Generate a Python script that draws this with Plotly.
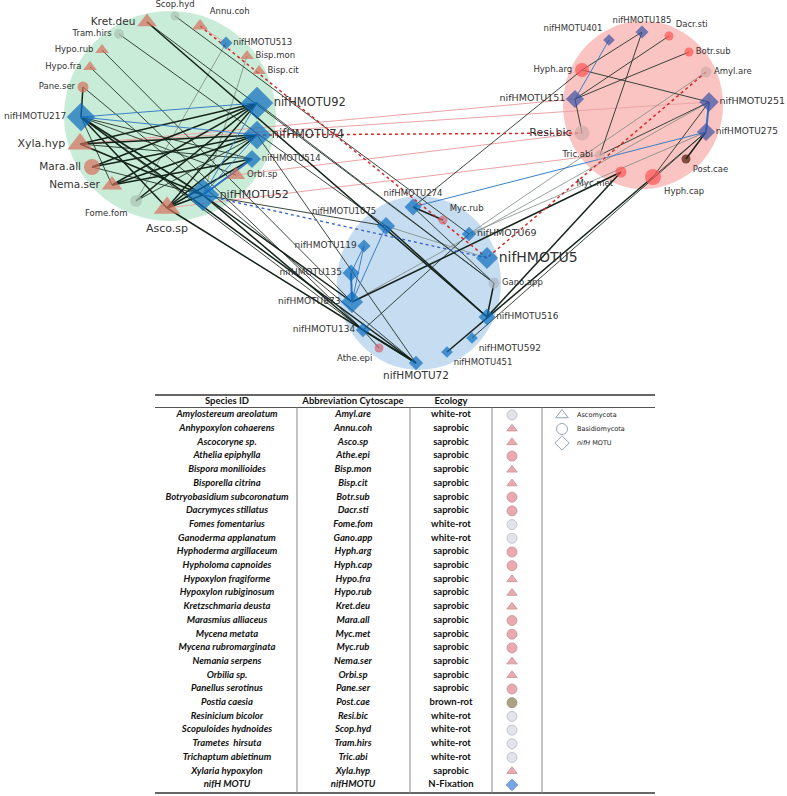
import plotly.graph_objects as go

# ---------------- network data ----------------
node_ids = [
    "Kret.deu", "Scop.hyd", "Annu.coh", "Tram.hirs", "nifHMOTU513", "Hypo.rub", "Bisp.mon",
    "Hypo.fra", "Bisp.cit", "Pane.ser", "nifHMOTU92", "nifHMOTU217", "nifHMOTU74", "Xyla.hyp",
    "nifHMOTU514", "Mara.all", "Orbi.sp", "Nema.ser", "Fome.fom", "nifHMOTU52", "Asco.sp",
    "nifHMOTU401", "nifHMOTU185", "Dacr.sti", "Botr.sub", "Hyph.arg", "Amyl.are", "nifHMOTU151",
    "nifHMOTU251", "Resi.bic", "nifHMOTU275", "Tric.abi", "Post.cae", "Myc.met", "Hyph.cap",
    "nifHMOTU274", "Myc.rub", "nifHMOTU1075", "nifHMOTU69", "nifHMOTU119", "nifHMOTU5",
    "nifHMOTU135", "Gano.app", "nifHMOTU873", "nifHMOTU516", "nifHMOTU134", "nifHMOTU592",
    "Athe.epi", "nifHMOTU451", "nifHMOTU72",
]
node_kind = [
    "asco", "basidio", "asco", "basidio", "nifH", "asco", "asco",
    "asco", "asco", "basidio", "nifH", "nifH", "nifH", "asco",
    "nifH", "basidio", "asco", "asco", "basidio", "nifH", "asco",
    "nifH", "nifH", "basidio", "basidio", "basidio", "basidio", "nifH",
    "nifH", "basidio", "nifH", "basidio", "basidio", "basidio", "basidio",
    "nifH", "basidio", "nifH", "nifH", "nifH", "nifH",
    "nifH", "basidio", "nifH", "nifH", "nifH", "nifH",
    "basidio", "nifH", "nifH",
]
node_ecology = [
    "saprobic", "white-rot", "saprobic", "white-rot", "N-Fixation", "saprobic", "saprobic",
    "saprobic", "saprobic", "saprobic", "N-Fixation", "N-Fixation", "N-Fixation", "saprobic",
    "N-Fixation", "saprobic", "saprobic", "saprobic", "white-rot", "N-Fixation", "saprobic",
    "N-Fixation", "N-Fixation", "saprobic", "saprobic", "saprobic", "white-rot", "N-Fixation",
    "N-Fixation", "white-rot", "N-Fixation", "white-rot", "brown-rot", "saprobic", "saprobic",
    "N-Fixation", "saprobic", "N-Fixation", "N-Fixation", "N-Fixation", "N-Fixation",
    "N-Fixation", "white-rot", "N-Fixation", "N-Fixation", "N-Fixation", "N-Fixation",
    "saprobic", "N-Fixation", "N-Fixation",
]
node_module = ["green"] * 21 + ["pink"] * 14 + ["blue"] * 15
node_degree = [
    17, 9, 14, 10, 10, 12, 12,
    12, 12, 11, 25, 22, 22, 22,
    14, 16, 16, 18, 12, 25, 23,
    9, 10, 9, 9, 14, 11, 14,
    15, 15, 14, 10, 9, 11, 16,
    13, 9, 14, 11, 10, 17,
    13, 11, 17, 13, 11, 9,
    9, 9, 11,
]

edges_dark_thick = [
    ("nifHMOTU92", "Xyla.hyp"), ("nifHMOTU92", "Mara.all"), ("nifHMOTU92", "Nema.ser"),
    ("nifHMOTU92", "Asco.sp"), ("nifHMOTU92", "Fome.fom"),
    ("nifHMOTU74", "Xyla.hyp"), ("nifHMOTU74", "Mara.all"), ("nifHMOTU74", "Nema.ser"),
    ("nifHMOTU74", "Asco.sp"), ("nifHMOTU514", "Asco.sp"), ("nifHMOTU514", "Nema.ser"),
    ("nifHMOTU52", "Asco.sp"), ("nifHMOTU52", "Xyla.hyp"), ("nifHMOTU217", "Asco.sp"),
    ("nifHMOTU217", "nifHMOTU52"), ("nifHMOTU217", "Pane.ser"),
    ("Kret.deu", "nifHMOTU516"), ("nifHMOTU217", "nifHMOTU72"), ("Asco.sp", "nifHMOTU72"),
    ("nifHMOTU52", "nifHMOTU134"), ("nifHMOTU52", "nifHMOTU873"),
    ("Myc.met", "nifHMOTU873"), ("Myc.met", "nifHMOTU516"), ("Hyph.cap", "nifHMOTU451"),
    ("nifHMOTU275", "Post.cae"), ("nifHMOTU274", "Myc.rub"), ("nifHMOTU1075", "nifHMOTU516"),
    ("Gano.app", "nifHMOTU516"), ("nifHMOTU134", "nifHMOTU72"),
]
edges_dark_thin = [
    ("nifHMOTU217", "Orbi.sp"), ("nifHMOTU217", "nifHMOTU514"), ("nifHMOTU217", "Nema.ser"),
    ("nifHMOTU52", "Mara.all"), ("nifHMOTU74", "Fome.fom"), ("nifHMOTU514", "Xyla.hyp"),
    ("Kret.deu", "Gano.app"), ("Tram.hirs", "nifHMOTU1075"), ("Hypo.rub", "nifHMOTU873"),
    ("Hypo.fra", "nifHMOTU134"), ("Pane.ser", "nifHMOTU72"), ("nifHMOTU217", "nifHMOTU134"),
    ("nifHMOTU52", "nifHMOTU1075"), ("nifHMOTU92", "Gano.app"), ("nifHMOTU74", "nifHMOTU72"),
    ("Scop.hyd", "nifHMOTU69"), ("Hyph.arg", "nifHMOTU274"), ("nifHMOTU592", "nifHMOTU275"),
    ("Hyph.arg", "nifHMOTU251"), ("nifHMOTU151", "Resi.bic"), ("nifHMOTU251", "Hyph.cap"),
    ("nifHMOTU251", "Tric.abi"), ("nifHMOTU185", "Tric.abi"), ("Dacr.sti", "nifHMOTU151"),
    ("Botr.sub", "nifHMOTU151"), ("nifHMOTU185", "Hyph.arg"), ("nifHMOTU134", "Athe.epi"),
    ("nifHMOTU274", "Gano.app"), ("nifHMOTU134", "nifHMOTU69"), ("nifHMOTU275", "Hyph.cap"),
]
edges_grey = [
    ("nifHMOTU1075", "nifHMOTU5"), ("nifHMOTU873", "nifHMOTU251"), ("Amyl.are", "nifHMOTU69"),
    ("Fome.fom", "nifHMOTU513"), ("Bisp.mon", "nifHMOTU52"), ("nifHMOTU275", "nifHMOTU69"),
]
edges_blue = [
    ("nifHMOTU217", "nifHMOTU92"), ("nifHMOTU217", "nifHMOTU74"), ("nifHMOTU92", "nifHMOTU52"),
    ("nifHMOTU74", "nifHMOTU52"), ("nifHMOTU401", "nifHMOTU151"), ("nifHMOTU275", "nifHMOTU274"),
    ("nifHMOTU1075", "nifHMOTU873"), ("nifHMOTU119", "nifHMOTU135"), ("nifHMOTU119", "nifHMOTU873"),
]
edges_blue_thick = [
    ("nifHMOTU514", "nifHMOTU52"), ("nifHMOTU251", "nifHMOTU275"), ("nifHMOTU135", "nifHMOTU873"),
]
edges_pink = [
    ("Xyla.hyp", "nifHMOTU251"), ("Xyla.hyp", "nifHMOTU151"), ("Orbi.sp", "Resi.bic"),
    ("Asco.sp", "Tric.abi"), ("Annu.coh", "nifHMOTU513"),
]
edges_red_dotted = [
    ("Annu.coh", "nifHMOTU5"), ("nifHMOTU74", "Resi.bic"), ("Amyl.are", "nifHMOTU5"),
]
edges_blue_dotted = [("nifHMOTU52", "nifHMOTU5")]

# ---------------- table data ----------------
species_names = [
    "Amylostereum areolatum", "Anhypoxylon cohaerens", "Ascocoryne sp.", "Athelia epiphylla",
    "Bispora monilioides", "Bisporella citrina", "Botryobasidium subcoronatum",
    "Dacrymyces stillatus", "Fomes fomentarius", "Ganoderma applanatum",
    "Hyphoderma argillaceum", "Hypholoma capnoides", "Hypoxylon fragiforme",
    "Hypoxylon rubiginosum", "Kretzschmaria deusta", "Marasmius alliaceus", "Mycena metata",
    "Mycena rubromarginata", "Nemania serpens", "Orbilia sp.", "Panellus serotinus",
    "Postia caesia", "Resinicium bicolor", "Scopuloides hydnoides", "Trametes  hirsuta",
    "Trichaptum abietinum", "Xylaria hypoxylon", "nifH MOTU",
]
abbreviations = [
    "Amyl.are", "Annu.coh", "Asco.sp", "Athe.epi", "Bisp.mon", "Bisp.cit", "Botr.sub",
    "Dacr.sti", "Fome.fom", "Gano.app", "Hyph.arg", "Hyph.cap", "Hypo.fra", "Hypo.rub",
    "Kret.deu", "Mara.all", "Myc.met", "Myc.rub", "Nema.ser", "Orbi.sp", "Pane.ser",
    "Post.cae", "Resi.bic", "Scop.hyd", "Tram.hirs", "Tric.abi", "Xyla.hyp", "nifHMOTU",
]
ecology = [
    "white-rot", "saprobic", "saprobic", "saprobic", "saprobic", "saprobic", "saprobic",
    "saprobic", "white-rot", "white-rot", "saprobic", "saprobic", "saprobic", "saprobic",
    "saprobic", "saprobic", "saprobic", "saprobic", "saprobic", "saprobic", "saprobic",
    "brown-rot", "white-rot", "white-rot", "white-rot", "white-rot", "saprobic", "N-Fixation",
]
phylum = [
    "basidio", "asco", "asco", "basidio", "asco", "asco", "basidio", "basidio", "basidio",
    "basidio", "basidio", "basidio", "asco", "asco", "asco", "basidio", "basidio", "basidio",
    "asco", "asco", "basidio", "basidio", "basidio", "basidio", "basidio", "basidio", "asco",
    "nifH",
]
header_labels = ["Species ID", "Abbreviation Cytoscape", "Ecology"]
legend_labels = ["Ascomycota", "Basidiomycota", "<i>nifH</i> MOTU"]
legend_kinds = ["asco", "basidio", "nifH"]

# ---------------- layout (positions & styles) ----------------
POS = {
    "Kret.deu": (147, 22, "middle left", 10.5), "Scop.hyd": (175, 16, "top center", 8.5),
    "Annu.coh": (200, 26, "top right", 8.5), "Tram.hirs": (119, 34, "middle left", 8.5),
    "nifHMOTU513": (226, 43, "middle right", 8.5), "Hypo.rub": (102, 50, "middle left", 8.5),
    "Bisp.mon": (247, 56, "middle right", 8.5), "Hypo.fra": (90, 67, "middle left", 8.5),
    "Bisp.cit": (259, 71, "middle right", 8.5), "Pane.ser": (83, 87, "middle left", 8.5),
    "nifHMOTU92": (257, 103, "middle right", 11.5), "nifHMOTU217": (81, 117, "middle left", 9),
    "nifHMOTU74": (257, 135, "middle right", 11.5), "Xyla.hyp": (80, 144, "middle left", 11),
    "nifHMOTU514": (252, 159, "middle right", 8.5), "Mara.all": (92, 167, "middle left", 10.5),
    "Orbi.sp": (236, 175, "middle right", 8.5), "Nema.ser": (112, 185, "middle left", 10.5),
    "Fome.fom": (136, 201, "bottom left", 8.5), "nifHMOTU52": (203, 195, "middle right", 11),
    "Asco.sp": (167, 208, "bottom center", 11),
    "nifHMOTU401": (609, 40, "top left", 8.5), "nifHMOTU185": (642, 32, "top center", 8.5),
    "Dacr.sti": (669, 36, "top right", 8.5), "Botr.sub": (689, 52, "middle right", 8.5),
    "Hyph.arg": (582, 70, "middle left", 8.5), "Amyl.are": (706, 72, "middle right", 8.5),
    "nifHMOTU151": (575, 99, "middle left", 9.5), "nifHMOTU251": (709, 102, "middle right", 9.5),
    "Resi.bic": (582, 133, "middle left", 11), "nifHMOTU275": (706, 132, "middle right", 9),
    "Tric.abi": (600, 155, "middle left", 8.5), "Post.cae": (686, 159, "bottom right", 8.5),
    "Myc.met": (621, 172, "bottom left", 8.5), "Hyph.cap": (653, 177, "bottom right", 8.5),
    "nifHMOTU274": (413, 207, "top center", 8.5), "Myc.rub": (443, 220, "top right", 8.5),
    "nifHMOTU1075": (386, 226, "top left", 8.5), "nifHMOTU69": (469, 234, "middle right", 9.5),
    "nifHMOTU119": (364, 246, "middle left", 9), "nifHMOTU5": (487, 258, "middle right", 14),
    "nifHMOTU135": (351, 273, "middle left", 9), "Gano.app": (494, 283, "middle right", 8.5),
    "nifHMOTU873": (352, 302, "middle left", 9), "nifHMOTU516": (487, 317, "middle right", 9),
    "nifHMOTU134": (363, 330, "middle left", 9), "nifHMOTU592": (472, 338, "bottom right", 9),
    "Athe.epi": (379, 348, "bottom left", 8.5), "nifHMOTU451": (447, 352, "bottom right", 8.5),
    "nifHMOTU72": (416, 363, "bottom center", 10.5),
}
SYMBOL = {"asco": "triangle-up", "basidio": "circle", "nifH": "diamond"}


def node_color(kind, eco, module):
    if kind == "nifH":
        return "#3a52a6" if module == "pink" else "#0b6cbd"
    if kind == "asco":
        return "#d4705c"
    if eco == "brown-rot":
        return "#4a1d05"
    if eco == "white-rot":
        return {"green": "#a9c5b3", "pink": "#d3abab", "blue": "#aab6c2"}[module]
    return {"green": "#d4705c", "pink": "#fc5555", "blue": "#cf6976"}[module]


fig = go.Figure()

# background modules
MODULES = [("#c8ecd7", 170, 116, 106, 105), ("#fac4c3", 643, 105, 80, 84),
           ("#c6dcf1", 419, 283, 82, 87)]
for col, cx, cy, rx, ry in MODULES:
    fig.add_shape(type="circle", x0=cx - rx, x1=cx + rx, y0=cy - ry, y1=cy + ry,
                  fillcolor=col, line_width=0, layer="below")


def edge_trace(edges, color, width, dash="solid"):
    xs, ys = [], []
    for a, b in edges:
        xs += [POS[a][0], POS[b][0], None]
        ys += [POS[a][1], POS[b][1], None]
    return go.Scatter(x=xs, y=ys, mode="lines", line=dict(color=color, width=width, dash=dash),
                      hoverinfo="skip", showlegend=False)


fig.add_trace(edge_trace(edges_pink, "#eba4a4", 1.0))
fig.add_trace(edge_trace(edges_grey, "#7d8a82", 0.8))
fig.add_trace(edge_trace(edges_dark_thin, "#24332a", 0.9))
fig.add_trace(edge_trace(edges_dark_thick, "#14231a", 1.5))
fig.add_trace(edge_trace(edges_blue, "#3b80c6", 1.0))
fig.add_trace(edge_trace(edges_blue_thick, "#2f6fc0", 2.0))
fig.add_trace(edge_trace(edges_red_dotted, "#d42a2a", 1.5, "dot"))
fig.add_trace(edge_trace(edges_blue_dotted, "#3b66d0", 1.4, "dot"))

# nodes
fig.add_trace(go.Scatter(
    x=[POS[n][0] for n in node_ids], y=[POS[n][1] for n in node_ids],
    mode="markers+text", text=node_ids,
    textposition=[POS[n][2] for n in node_ids],
    textfont=dict(family="DejaVu Sans", color="#333333", size=[POS[n][3] for n in node_ids]),
    marker=dict(symbol=[SYMBOL[k] for k in node_kind],
                size=node_degree,
                color=[node_color(k, e, m) for k, e, m in zip(node_kind, node_ecology, node_module)],
                line=dict(width=0)),
    hoverinfo="skip", showlegend=False, cliponaxis=False,
))

# ---------------- table ----------------
ROW0, DY = 415, 13.7
COLX = [227, 353, 451, 512]
rows_y = [ROW0 + i * DY for i in range(len(species_names))]

fig.add_shape(type="line", x0=155, x1=655, y0=395, y1=395, line=dict(color="#333", width=1.5))
fig.add_shape(type="line", x0=155, x1=655, y0=407.5, y1=407.5, line=dict(color="#555", width=1))
fig.add_shape(type="line", x0=155, x1=655, y0=793, y1=793, line=dict(color="#333", width=1.5))
for vx in [297, 410, 492, 542]:
    fig.add_shape(type="line", x0=vx, x1=vx, y0=407.5, y1=793, line=dict(color="#888", width=1))

TFONT = "Lato"
fig.add_trace(go.Scatter(x=COLX[:3], y=[401.5] * 3, mode="text",
                         text=["<b>%s</b>" % h for h in header_labels],
                         textfont=dict(family=TFONT, size=9.5, color="#111"),
                         hoverinfo="skip", showlegend=False))
fig.add_trace(go.Scatter(x=[COLX[0]] * len(species_names), y=rows_y, mode="text",
                         text=["<b><i>%s</i></b>" % s for s in species_names],
                         textfont=dict(family=TFONT, size=9.5, color="#111"),
                         hoverinfo="skip", showlegend=False))
fig.add_trace(go.Scatter(x=[COLX[1]] * len(abbreviations), y=rows_y, mode="text",
                         text=["<b><i>%s</i></b>" % s for s in abbreviations],
                         textfont=dict(family=TFONT, size=9.5, color="#111"),
                         hoverinfo="skip", showlegend=False))
fig.add_trace(go.Scatter(x=[COLX[2]] * len(ecology), y=rows_y, mode="text",
                         text=["<b>%s</b>" % s for s in ecology],
                         textfont=dict(family=TFONT, size=9.5, color="#111"),
                         hoverinfo="skip", showlegend=False))

ECO_FILL = {"white-rot": "#d5d9df", "saprobic": "#df878e", "brown-rot": "#877b4c",
            "N-Fixation": "#3d7fd8"}
ECO_LINE = {"white-rot": "#9aa0ab", "saprobic": "#b2656c", "brown-rot": "#6a5f36",
            "N-Fixation": "#2d66b8"}
fig.add_trace(go.Scatter(
    x=[COLX[3]] * len(phylum), y=rows_y, mode="markers",
    marker=dict(symbol=[SYMBOL[p] for p in phylum],
                size=[10 if p == "basidio" else 9 for p in phylum],
                color=[ECO_FILL[e] for e in ecology],
                line=dict(color=[ECO_LINE[e] for e in ecology], width=0.8)),
    hoverinfo="skip", showlegend=False))

# legend block
leg_y = [415, 429, 443]
fig.add_trace(go.Scatter(
    x=[562] * 3, y=leg_y, mode="markers",
    marker=dict(symbol=[SYMBOL[k] + "-open" for k in legend_kinds], size=11,
                color="#93a3bb", line=dict(width=1)),
    hoverinfo="skip", showlegend=False))
fig.add_trace(go.Scatter(
    x=[577] * 3, y=leg_y, mode="text", text=legend_labels, textposition="middle right",
    textfont=dict(family="DejaVu Sans", size=6.5, color="#222"),
    hoverinfo="skip", showlegend=False))

fig.update_layout(
    width=787, height=796, margin=dict(l=0, r=0, t=0, b=0),
    paper_bgcolor="white", plot_bgcolor="white",
    xaxis=dict(range=[0, 787], visible=False, fixedrange=True),
    yaxis=dict(range=[796, 0], visible=False, fixedrange=True),
    showlegend=False, hovermode=False,
)
fig.write_html("out.html", config={"displayModeBar": False},
               post_script="document.body.style.margin='0';document.body.style.overflow='hidden';")
